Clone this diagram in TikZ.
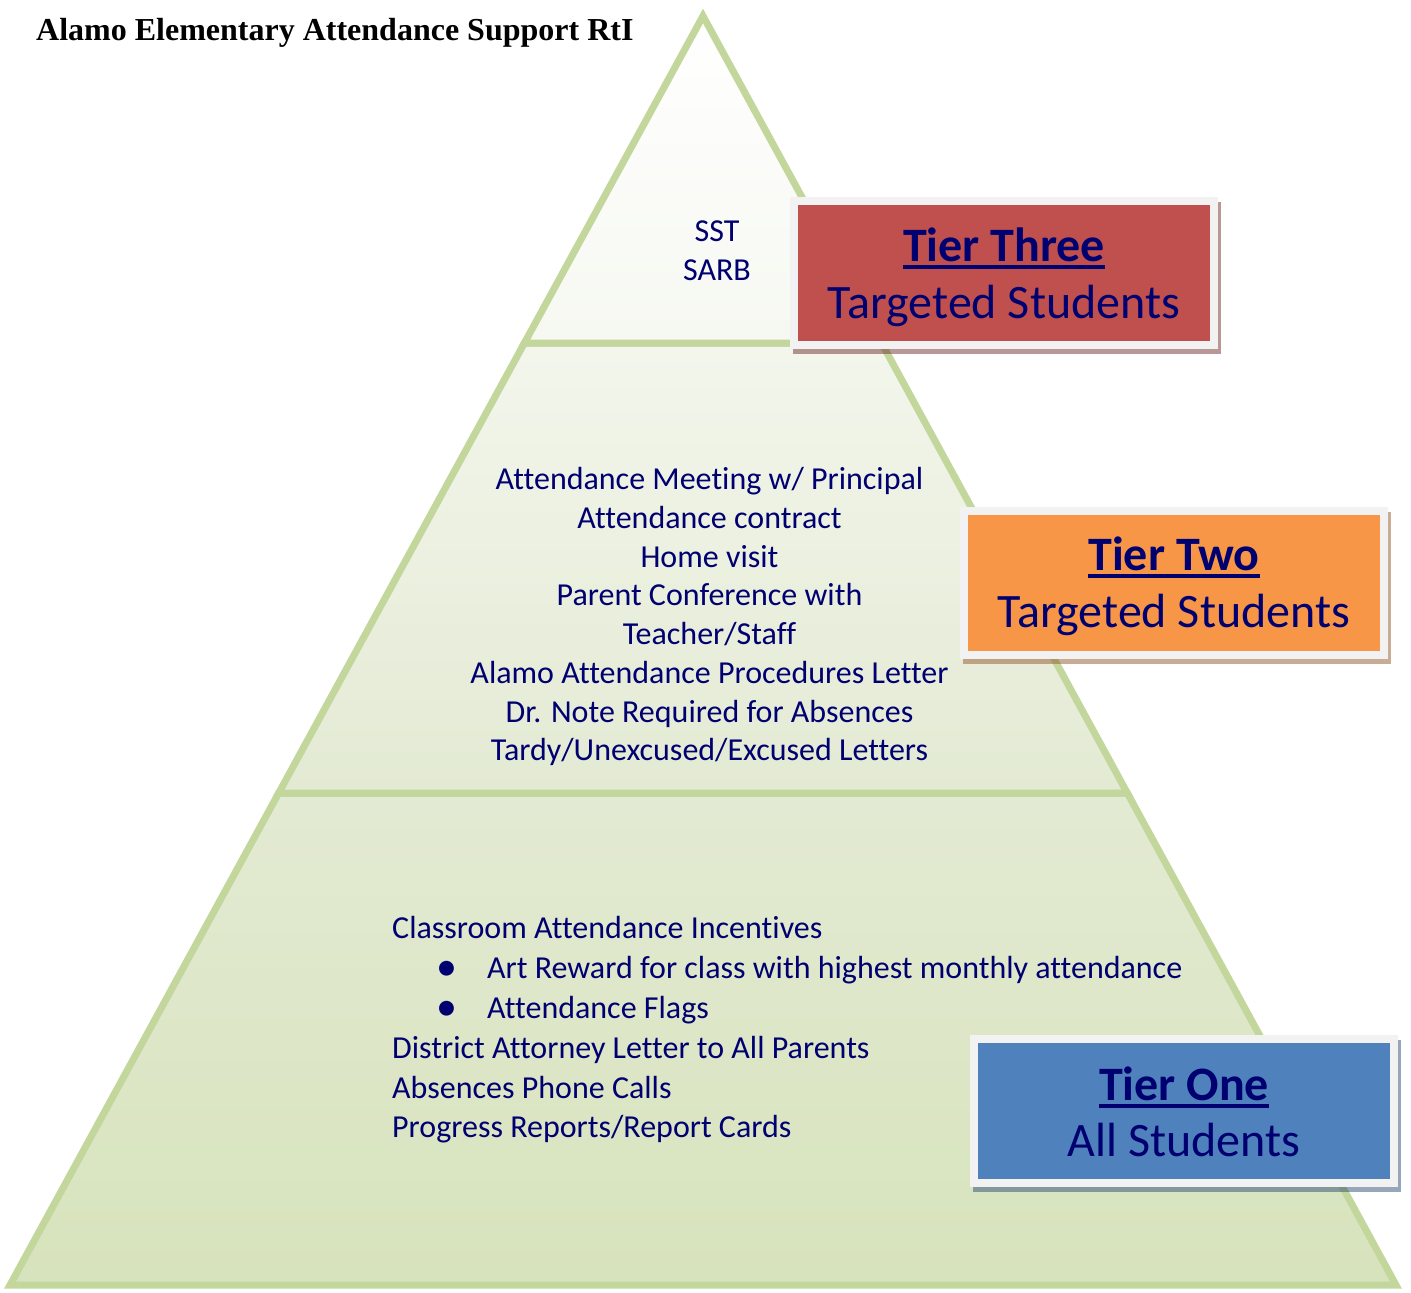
\documentclass[tikz,border=0pt]{standalone}
\usepackage{fontspec}
\setmainfont{Carlito}[Ligatures=NoCommon]
\newfontfamily\titlefont{Liberation Serif}
\definecolor{pyrline}{HTML}{C3D69B}
\definecolor{navytext}{HTML}{000070}
\definecolor{tthree}{HTML}{C0504D}
\definecolor{ttwo}{HTML}{F79646}
\definecolor{tone}{HTML}{4F81BD}
\definecolor{boxrim}{HTML}{F2F2F2}
\definecolor{gA}{HTML}{FFFFFF}
\definecolor{gB}{HTML}{F6F8F1}
\definecolor{gC}{HTML}{F3F6EC}
\definecolor{gD}{HTML}{E3EAD3}
\definecolor{gE}{HTML}{D7E3BC}
\newsavebox\tierulbox
\newcommand\tierul[1]{\sbox\tierulbox{#1}\rlap{\rule[-8pt]{\wd\tierulbox}{4pt}}\usebox\tierulbox}
\tikzset{
  pyr/.style={draw=pyrline, line width=7pt, line join=miter},
  body/.style={inner sep=0pt, text=navytext, font=\fontsize{32}{38.7}\selectfont},
  bodyline/.style={body, anchor=base west},
  bulletmark/.style={inner sep=0pt, anchor=base, text=navytext, font=\fontsize{42}{42}\selectfont},
  tierbox/.style={draw=boxrim, line width=8pt, minimum width=420pt, minimum height=144pt, inner sep=0pt},
  tiertitle/.style={inner sep=0pt, anchor=base, text=navytext, font=\fontsize{48}{57}\selectfont\bfseries},
  tiersub/.style={inner sep=0pt, anchor=base, text=navytext, font=\fontsize{48}{57}\selectfont},
}
\begin{document}
\begin{tikzpicture}[x=1pt,y=-1pt]
\useasboundingbox (0,0) rectangle (1411,1293);
\coordinate (apex) at (703,16);
\coordinate (L1) at (524.4,343);
\coordinate (R1) at (881.6,343);
\coordinate (L2) at (278.7,793);
\coordinate (R2) at (1127.3,793);
\coordinate (L3) at (10,1285);
\coordinate (R3) at (1396,1285);
% pyramid
\path[pyr, top color=gD, bottom color=gE] (L2) -- (R2) -- (R3) -- (L3) -- cycle;
\path[pyr, top color=gC, bottom color=gD] (L1) -- (R1) -- (R2) -- (L2) -- cycle;
\path[pyr, top color=gA, bottom color=gB] (apex) -- (R1) -- (L1) -- cycle;
% title
\node[inner sep=0pt, anchor=base west, font=\titlefont\bfseries\fontsize{32}{38}\selectfont] (title) at (36,40) {Alamo Elementary Attendance Support RtI};
% tier three contents
\node[body, align=center] (sst) at (717,253.4) {\strut SST\\\strut SARB};
% tier two contents
\node[body, align=center] (tiertwotext) at (709.5,617.5) {\strut Attendance Meeting w/ Principal\\
Attendance contract\\
Home visit\\
Parent Conference with\\
Teacher/Staff\\
Alamo Attendance Procedures Letter\\
Dr. Note Required for Absences\\
\strut Tardy/Unexcused/Excused Letters};
% tier one contents
\node[bodyline] (c1) at (392,938) {Classroom Attendance Incentives};
\node[bulletmark] (b1) at (447,980.5) {•};
\node[bodyline] (c2) at (487,978) {Art Reward for class with highest monthly attendance};
\node[bulletmark] (b2) at (447,1020.5) {•};
\node[bodyline] (c3) at (487,1018) {Attendance Flags};
\node[bodyline] (c4) at (392,1058) {District Attorney Letter to All Parents};
\node[bodyline] (c5) at (392,1098) {Absences Phone Calls};
\node[bodyline] (c6) at (392,1137) {Progress Reports/Report Cards};
% tier boxes
\fill[tthree!60!black, opacity=0.5] (793,202) rectangle (1221,354);
\node[tierbox, fill=tthree] (t3box) at (1004,273) {};
\node[tiertitle] (t3title) at (1004,261) {\tierul{Tier Three}};
\node[tiersub] (t3sub) at (1004,318) {Targeted Students};
\fill[ttwo!60!black, opacity=0.5] (963,512) rectangle (1391,664);
\node[tierbox, fill=ttwo] (t2box) at (1174,583) {};
\node[tiertitle] (t2title) at (1174,570) {\tierul{Tier Two}};
\node[tiersub] (t2sub) at (1174,627) {Targeted Students};
\fill[tone!60!black, opacity=0.5] (973,1040) rectangle (1401,1192);
\node[tierbox, fill=tone] (t1box) at (1184,1111) {};
\node[tiertitle] (t1title) at (1184,1100) {\tierul{Tier One}};
\node[tiersub] (t1sub) at (1184,1156) {All Students};
\end{tikzpicture}
\end{document}
